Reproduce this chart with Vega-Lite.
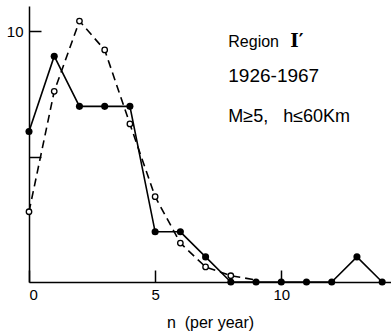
{
  "$schema": "https://vega.github.io/schema/vega-lite/v6.json",
  "width": 362,
  "height": 276,
  "autosize": {"type": "none"},
  "padding": {"left": 29, "top": 6, "right": 0, "bottom": 52},
  "background": "white",
  "config": {"view": {"stroke": null}, "font": "Liberation Sans"},
  "datasets": {
    "obs": [
      {"n": 0, "count": 6}, {"n": 1, "count": 9}, {"n": 2, "count": 7}, {"n": 3, "count": 7},
      {"n": 4, "count": 7}, {"n": 5, "count": 2}, {"n": 6, "count": 2}, {"n": 7, "count": 1},
      {"n": 8, "count": 0}, {"n": 9, "count": 0}, {"n": 10, "count": 0}, {"n": 11, "count": 0},
      {"n": 12, "count": 0}, {"n": 13, "count": 1}, {"n": 14, "count": 0}
    ],
    "exp": [
      {"n": 0, "count": 2.8, "pt": true}, {"n": 1, "count": 7.6, "pt": true}, {"n": 2, "count": 10.4, "pt": true},
      {"n": 3, "count": 9.25, "pt": true}, {"n": 4, "count": 6.3, "pt": true}, {"n": 5, "count": 3.4, "pt": true},
      {"n": 6, "count": 1.55, "pt": true}, {"n": 7, "count": 0.6, "pt": true}, {"n": 8, "count": 0.25, "pt": true},
      {"n": 9, "count": 0.08, "pt": false}
    ],
    "notes": [{"label": "Region"}]
  },
  "layer": [
    {
      "data": {"name": "exp"},
      "mark": {"type": "line", "color": "black", "strokeWidth": 1.6, "strokeDash": [8, 5]},
      "encoding": {
        "x": {"field": "n", "type": "quantitative", "scale": {"domain": [0, 14.35], "nice": false},
          "axis": {"values": [0, 5, 10], "title": "n\u00a0\u00a0(per year)", "titleFontSize": 16, "titleFontWeight": "normal", "titlePadding": 12,
            "labelFontSize": 15, "labelPadding": 17, "tickSize": -12, "tickColor": "black", "domainColor": "black", "grid": false, "labelColor": "black", "titleColor": "black", "domainWidth": 1.5, "tickWidth": 1.5}},
        "y": {"field": "count", "type": "quantitative", "scale": {"domain": [0, 11], "nice": false},
          "axis": {"values": [5, 10], "labelExpr": "datum.value == 10 ? '10' : ''", "title": null, "labelFontSize": 15,
            "tickSize": -12, "tickColor": "black", "domainColor": "black", "grid": false, "labelColor": "black", "labelPadding": 18, "domainWidth": 1.5, "tickWidth": 1.5}}
      }
    },
    {
      "data": {"name": "exp"},
      "transform": [{"filter": "datum.pt"}],
      "mark": {"type": "point", "shape": "circle", "filled": true, "fill": "white", "stroke": "black", "strokeWidth": 1.3, "size": 30, "opacity": 1},
      "encoding": {
        "x": {"field": "n", "type": "quantitative"},
        "y": {"field": "count", "type": "quantitative"}
      }
    },
    {
      "data": {"name": "obs"},
      "mark": {"type": "line", "color": "black", "strokeWidth": 1.6},
      "encoding": {
        "x": {"field": "n", "type": "quantitative"},
        "y": {"field": "count", "type": "quantitative"}
      }
    },
    {
      "data": {"name": "obs"},
      "mark": {"type": "point", "shape": "circle", "filled": true, "color": "black", "size": 50, "opacity": 1},
      "encoding": {
        "x": {"field": "n", "type": "quantitative"},
        "y": {"field": "count", "type": "quantitative"}
      }
    },
    {
      "data": {"name": "notes"},
      "mark": {"type": "text", "align": "left", "baseline": "alphabetic", "fontSize": 16, "color": "black"},
      "encoding": {"x": {"datum": 7.9}, "y": {"datum": 9.36}, "text": {"value": "Region"}}
    },
    {
      "data": {"name": "notes"},
      "mark": {"type": "text", "align": "left", "baseline": "alphabetic", "fontSize": 18, "fontWeight": "bold", "font": "DejaVu Serif", "color": "black"},
      "encoding": {"x": {"datum": 10.36}, "y": {"datum": 9.36}, "text": {"value": "I′"}}
    },
    {
      "data": {"name": "notes"},
      "mark": {"type": "text", "align": "left", "baseline": "alphabetic", "fontSize": 19, "color": "black"},
      "encoding": {"x": {"datum": 7.9}, "y": {"datum": 7.97}, "text": {"value": "1926-1967"}}
    },
    {
      "data": {"name": "notes"},
      "mark": {"type": "text", "align": "left", "baseline": "alphabetic", "fontSize": 18, "color": "black"},
      "encoding": {"x": {"datum": 7.9}, "y": {"datum": 6.37}, "text": {"value": "M≥5,\u00a0\u00a0\u00a0h≤60Km"}}
    }
  ]
}
